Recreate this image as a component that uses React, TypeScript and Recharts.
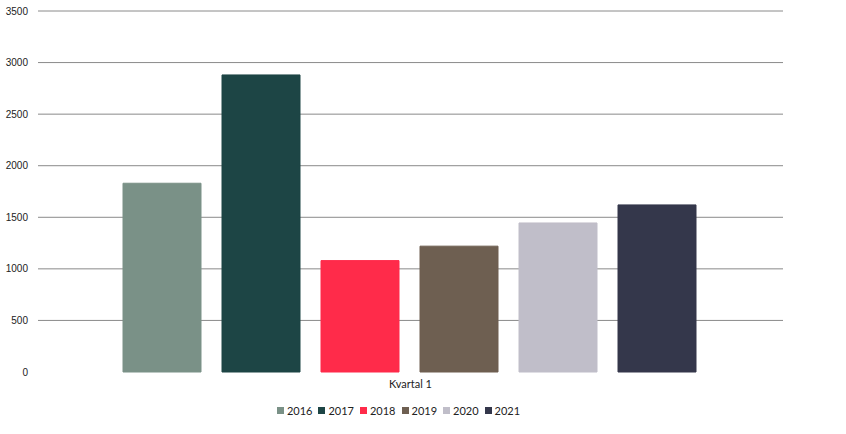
import { BarChart, Bar, XAxis, YAxis, CartesianGrid, Legend } from 'recharts'

// Kvartal 1 values per year
const categories = ['Kvartal 1']
const years = ['2016', '2017', '2018', '2019', '2020', '2021']
const values = [1830, 2880, 1080, 1220, 1445, 1620]
const colors = ['#7A9187', '#1D4545', '#FF2B4A', '#6E5F51', '#C0BEC9', '#34374B']
const yTicks = [0, 500, 1000, 1500, 2000, 2500, 3000, 3500]
const gridValues = [500, 1000, 1500, 2000, 2500, 3000, 3500]

const data = categories.map((name) => {
  const row: Record<string, string | number> = { name }
  years.forEach((y, i) => {
    row[y] = values[i]
  })
  return row
})

const renderLegend = () => (
  <div style={{ display: 'flex', justifyContent: 'center', gap: 6, fontSize: 11, fontFamily: 'Lato, sans-serif', color: '#222', paddingLeft: 14 }}>
    {years.map((y, i) => (
      <div key={y} style={{ display: 'flex', alignItems: 'center', gap: 3 }}>
        <span style={{ width: 7, height: 7, background: colors[i], display: 'inline-block' }} />
        <span>{y}</span>
      </div>
    ))}
  </div>
)

export default function App() {
  return (
    <div style={{ position: 'absolute', left: 0, top: 0, background: '#fff' }}>
      <BarChart
        width={846}
        height={434}
        data={data}
        margin={{ top: 11, right: 63, left: 0, bottom: 17 }}
        barCategoryGap={85}
        barGap={21}
      >
        <CartesianGrid vertical={false} horizontalValues={gridValues} stroke="#8a8a8a" strokeWidth={1} />
        <XAxis
          dataKey="name"
          axisLine={false}
          tickLine={false}
          height={32}
          tick={{ fontSize: 11, fill: '#222', fontFamily: 'Lato, sans-serif' }}
        />
        <YAxis
          width={38}
          domain={[0, 3500]}
          ticks={yTicks}
          axisLine={false}
          tickLine={false}
          tickMargin={4}
          tick={{ fontSize: 10, fill: '#222', fontFamily: 'Liberation Sans, Arial, sans-serif' }}
        />
        <Legend verticalAlign="bottom" content={renderLegend} />
        {years.map((y, i) => (
          <Bar
            key={y}
            dataKey={y}
            fill={colors[i]}
            stroke={colors[i]}
            isAnimationActive={false}
          />
        ))}
      </BarChart>
    </div>
  )
}
